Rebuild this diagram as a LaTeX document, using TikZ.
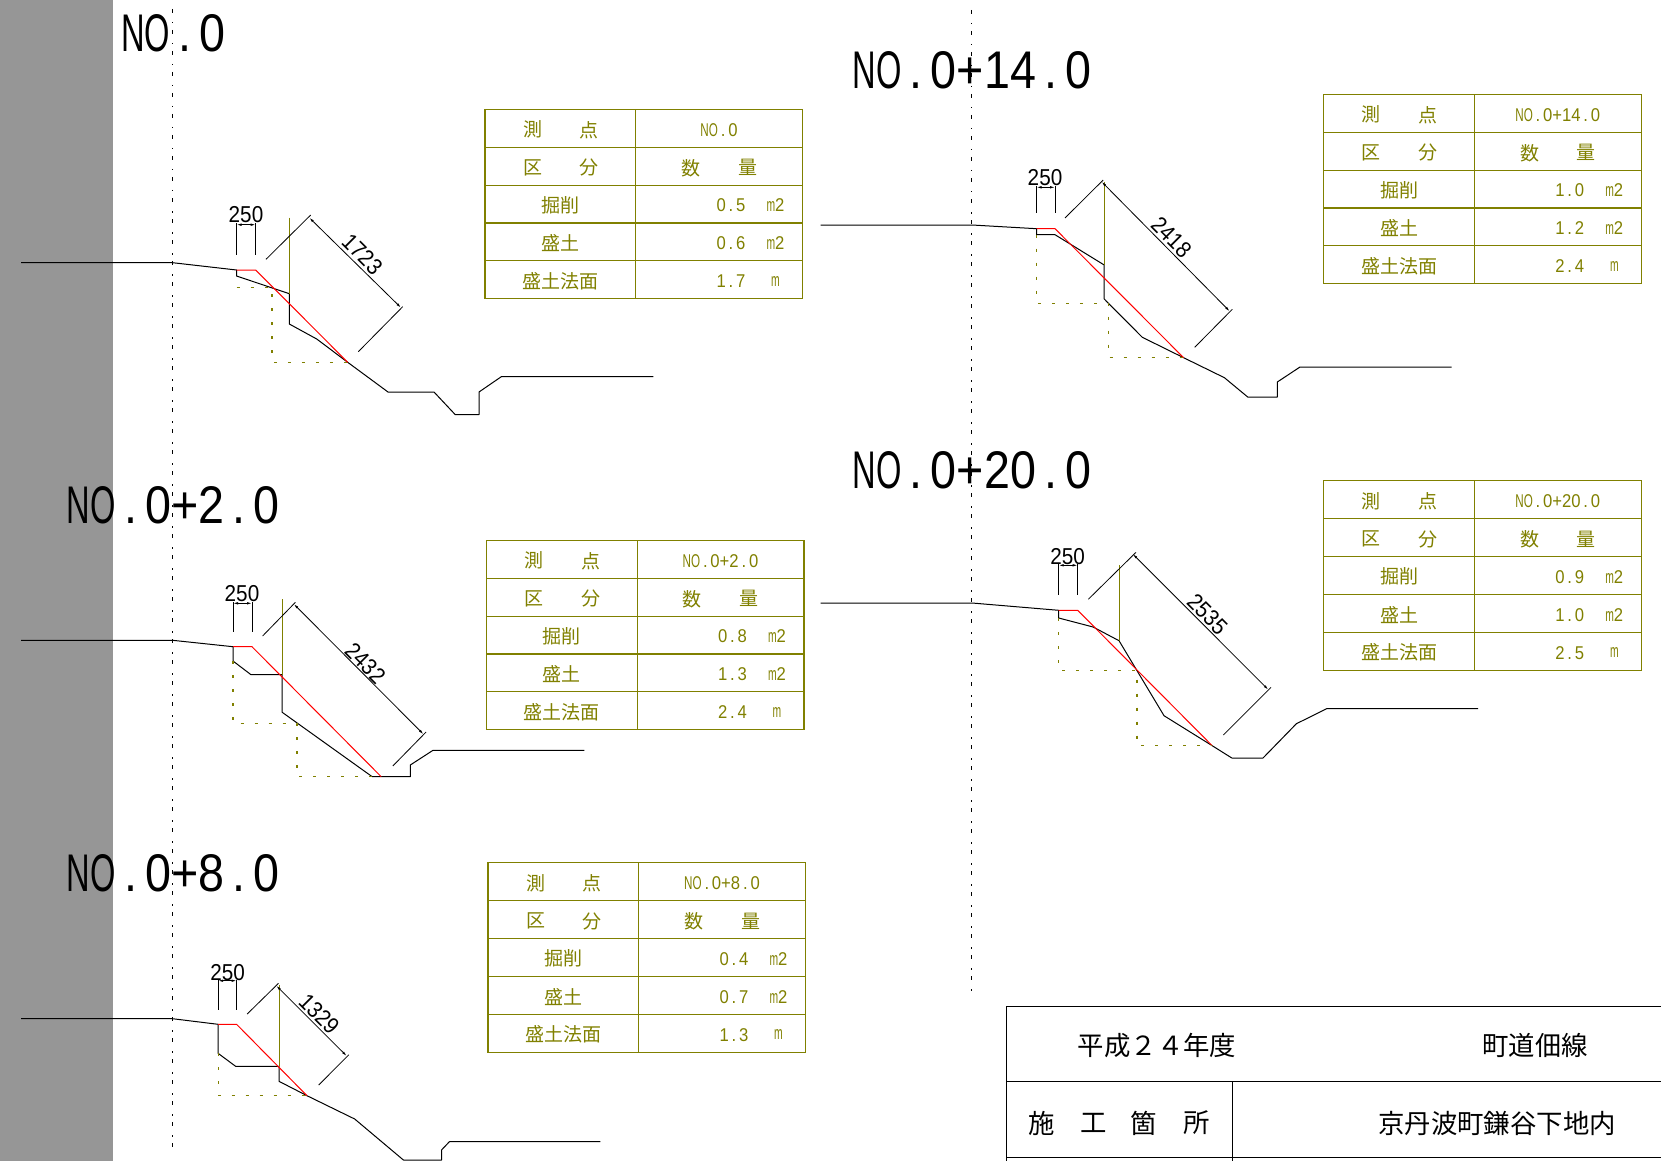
\documentclass[tikz,border=0pt]{standalone}
\usepackage{fontspec}
\setmainfont{Liberation Sans}
\newfontfamily\cadfont[FakeStretch=0.9]{Liberation Sans}
\newfontfamily\titlefont[FakeStretch=0.88]{Liberation Sans}
\newfontfamily\cjk{Noto Sans CJK JP}
\usetikzlibrary{arrows.meta}
\definecolor{tableolive}{HTML}{808000}
\definecolor{wallgray}{HTML}{969696}
\newcommand{\cadno}{\scalebox{.7}[1]{NO}}
\newcommand{\cadpt}{\makebox[.556em]{.}}
\newcommand{\cadm}{\scalebox{.62}[1]{m}}
\newcommand{\qtytable}[7]{
\begin{scope}[shift={(#1,#2)}]
\draw[tableline](0,0)rectangle(317.5,189.5)(150.8,0)--(150.8,189.5);
\draw[tableline](0,37.9)--(317.5,37.9)(0,75.8)--(317.5,75.8)(0,113.7)--(317.5,113.7)(0,151.6)--(317.5,151.6);
\node[tablecjk](#3a)at(47.6,20.5){測};
\node[tablecjk](#3b)at(104.2,20.5){点};
\node[tablenum](#3c)at(234,20.5){#4};
\node[tablecjk](#3d)at(47.6,58.5){区};
\node[tablecjk](#3e)at(104.2,58.5){分};
\node[tablecjk](#3f)at(205.9,58.5){数};
\node[tablecjk](#3g)at(262.5,58.5){量};
\node[tablecjk](#3h)at(75.4,96){掘削};
\node[tablenum](#3i)at(246,96){#5};
\node[tablenum](#3j)at(290.5,96){\cadm 2};
\node[tablecjk](#3k)at(75.4,134){盛土};
\node[tablenum](#3l)at(246,134){#6};
\node[tablenum](#3m)at(290.5,134){\cadm 2};
\node[tablecjk](#3n)at(75.4,172){盛土法面};
\node[tablenum](#3o)at(246,172){#7};
\node[tablenum](#3p)at(290.5,172){\cadm};
\end{scope}}
\begin{document}
\begin{tikzpicture}[x=1pt,y=-1pt,
groundline/.style={black,line width=1pt,line join=round},
cutline/.style={red,line width=1pt,line join=round},
oliveline/.style={tableolive,line width=1pt},
fillline/.style={tableolive,line width=1.1pt,dash pattern=on 3pt off 11pt},
centerline/.style={black,line width=1pt,dash pattern=on 4pt off 9pt on 1.5pt off 6.5pt},
dimline/.style={black,line width=.8pt},
dimarrow/.style={dimline,{Latex[length=5pt,width=2.5pt]}-{Latex[length=5pt,width=2.5pt]}},
dimtext/.style={inner sep=0pt,font=\cadfont\fontsize{23}{23}\selectfont},
titletext/.style={inner sep=0pt,font=\titlefont\fontsize{53}{53}\selectfont},
tableline/.style={tableolive,line width=1.1pt},
tablecjk/.style={inner sep=0pt,tableolive,font=\cjk\fontsize{19}{19}\selectfont},
tablenum/.style={inner sep=0pt,tableolive,font=\cadfont\fontsize{18.5}{19}\selectfont},
blocktext/.style={inner sep=0pt,font=\cjk\fontsize{26.4}{27}\selectfont}]
\useasboundingbox(0,0)rectangle(1661,1161);
\fill[wallgray](0,0)rectangle(112.7,1161);
\draw[centerline](172.6,9)--(172.6,1152);
\draw[centerline](971.9,10)--(971.9,996);
% NO.0
\node[titletext](title0)at(173.4,33){\cadno\cadpt 0};
\draw[groundline](21.2,262.7)--(172.6,262.7)--(236.5,270)--(236.5,276)--(289.3,293.7)--(289.3,324)--(316.7,339)--(347.7,362.3)--(388,392)--(434,392)--(455.3,414.7)--(479,414.7)--(479,392)--(501.3,376.7)--(653.3,376.7);
\draw[cutline](236.5,270)--(255.7,270)--(347.7,362.3);
\draw[oliveline](289.3,217.7)--(289.3,293.7);
\draw[fillline](236.5,287.7)--(272,287.7)--(272,362.3)--(347.7,362.3);
\draw[dimline](236.5,223)--(236.5,255)(255.7,223)--(255.7,255);
\draw[dimarrow](236.5,224.7)--(255.7,224.7);
\node[dimtext](w0)at(246,215){250};
\draw[dimline](266,259.3)--(310.7,215)(358.3,351.7)--(402.7,306.7);
\draw[dimarrow](309.3,217.7)--(401,307.7);
\node[dimtext,rotate=-45](d0)at(362.3,254.3){1723};
\qtytable{485}{109.3}{ta}{\cadno\cadpt 0}{0\cadpt 5}{0\cadpt 6}{1\cadpt 7}
% NO.0+2.0
\node[titletext](title2)at(173.4,505){\cadno\cadpt 0+2\cadpt 0};
\draw[groundline](21.2,640.3)--(172.6,640.3)--(233,646.7)--(233,661)--(251,674.7)--(282.2,674.7)--(282.2,712.3)--(372.2,776.7)--(410.3,776.7)--(410.3,765)--(433,750.3)--(584.4,750.3);
\draw[cutline](233,646.7)--(252,646.7)--(381.2,776.7);
\draw[oliveline](282.2,599)--(282.2,674.7);
\draw[fillline](233,661)--(233,723.3)--(297,723.3)--(297,776.7)--(372.2,776.7);
\draw[dimline](233,602)--(233,631.7)(252,602)--(252,631.7);
\draw[dimarrow](233,603.3)--(252,603.3);
\node[dimtext](w2)at(242,594){250};
\draw[dimline](262.6,636)--(295.4,602.3)(392.8,766)--(426.1,732);
\draw[dimarrow](293.8,604)--(423.5,734.3);
\node[dimtext,rotate=-45](d2)at(365.3,663.3){2432};
\qtytable{486.5}{540.3}{tb}{\cadno\cadpt 0+2\cadpt 0}{0\cadpt 8}{1\cadpt 3}{2\cadpt 4}
% NO.0+8.0
\node[titletext](title8)at(173.4,873){\cadno\cadpt 0+8\cadpt 0};
\draw[groundline](21.2,1018.7)--(172.6,1018.7)--(218.1,1024.3)--(218.1,1053.3)--(235.6,1066.3)--(279,1066.3)--(279,1081.3)--(307,1095.7)--(354.7,1119)--(403.4,1160)--(441.5,1160)--(441.5,1150)--(449.4,1141.7)--(600.3,1141.7);
\draw[cutline](218.1,1024.3)--(236.6,1024.3)--(307,1095.7);
\draw[oliveline](279,985)--(279,1066.3);
\draw[fillline](218.1,1053.3)--(218.1,1095.7)--(307,1095.7);
\draw[dimline](218.1,979.5)--(218.1,1010)(236.6,979.5)--(236.6,1010);
\draw[dimarrow](218.1,980.7)--(236.6,980.7);
\node[dimtext](w8)at(227.6,972.7){250};
\draw[dimline](247.2,1014)--(278.5,983.3)(318.7,1085)--(348.9,1054.7);
\draw[dimarrow](276.3,985.7)--(346.7,1056);
\node[dimtext,rotate=-45](d8)at(319.2,1014){1329};
\qtytable{488}{862.7}{tc}{\cadno\cadpt 0+8\cadpt 0}{0\cadpt 4}{0\cadpt 7}{1\cadpt 3}
% NO.0+14.0
\node[titletext](title14)at(972,70){\cadno\cadpt 0+14\cadpt 0};
\draw[groundline](820.5,225)--(971.9,225)--(1036.5,228.7)--(1036.5,234.7)--(1055,234.7)--(1104.2,265)--(1104.2,299)--(1142.3,337.3)--(1183.6,357.7)--(1224.4,377.7)--(1247.7,397)--(1277.3,397)--(1277.3,382)--(1300,367)--(1451.5,367);
\draw[cutline](1036.5,228.7)--(1055,228.7)--(1183.6,357.7);
\draw[oliveline](1104.2,181.7)--(1104.2,265);
\draw[fillline](1036.5,234.7)--(1036.5,303.3)--(1108.5,303.3)--(1108.5,357.7)--(1183.6,357.7);
\draw[dimline](1036.5,186)--(1036.5,213.3)(1055,186)--(1055,213.3);
\draw[dimarrow](1036.5,187.3)--(1055,187.3);
\node[dimtext](w14)at(1045,177.3){250};
\draw[dimline](1065,218)--(1103.2,180)(1194.7,347.3)--(1232.3,309.3);
\draw[dimarrow](1101.6,181.7)--(1229.7,311.3);
\node[dimtext,rotate=-45](d14)at(1171.4,237.3){2418};
\qtytable{1323.8}{94.3}{td}{\cadno\cadpt 0+14\cadpt 0}{1\cadpt 0}{1\cadpt 2}{2\cadpt 4}
% NO.0+20.0
\node[titletext](title20)at(972,470){\cadno\cadpt 0+20\cadpt 0};
\draw[groundline](820.5,603)--(971.9,603)--(1058.7,610.3)--(1058.7,618)--(1093.1,627)--(1119,640.7)--(1164,715.7)--(1212.2,745.7)--(1231.8,758)--(1263,758)--(1296.4,723.7)--(1326.6,708.7)--(1478,708.7);
\draw[cutline](1058.7,610.3)--(1077.7,610.3)--(1212.2,745.7);
\draw[oliveline](1119,565)--(1119,640.7);
\draw[fillline](1058.7,618)--(1058.7,670.7)--(1137,670.7)--(1137,745.7)--(1212.2,745.7);
\draw[dimline](1058.7,564)--(1058.7,595.3)(1077.7,564)--(1077.7,595.3);
\draw[dimarrow](1058.7,565.3)--(1077.7,565.3);
\node[dimtext](w20)at(1067.7,556.7){250};
\draw[dimline](1088.3,599.3)--(1136,552.3)(1223.3,735)--(1271,687.3);
\draw[dimarrow](1132.8,554)--(1268.3,689.7);
\node[dimtext,rotate=-45](d20)at(1207.4,614.3){2535};
\qtytable{1323.8}{480.7}{te}{\cadno\cadpt 0+20\cadpt 0}{0\cadpt 9}{1\cadpt 0}{2\cadpt 5}
% title block
\draw[black,line width=1pt](1661,1006.3)--(1006,1006.3)--(1006,1161);
\draw[black,line width=1pt](1006,1081.7)--(1661,1081.7)(1006,1157.3)--(1661,1157.3)(1232.7,1081.7)--(1232.7,1161);
\node[blocktext](year)at(1157,1045){平成２４年度};
\node[blocktext](road)at(1535,1045){町道佃線};
\node[blocktext](placea)at(1041.4,1123){施};
\node[blocktext](placeb)at(1094,1123){工};
\node[blocktext](placec)at(1144,1123){箇};
\node[blocktext](placed)at(1197,1123){所};
\node[blocktext](site)at(1497,1123){京丹波町鎌谷下地内};
\end{tikzpicture}
\end{document}
